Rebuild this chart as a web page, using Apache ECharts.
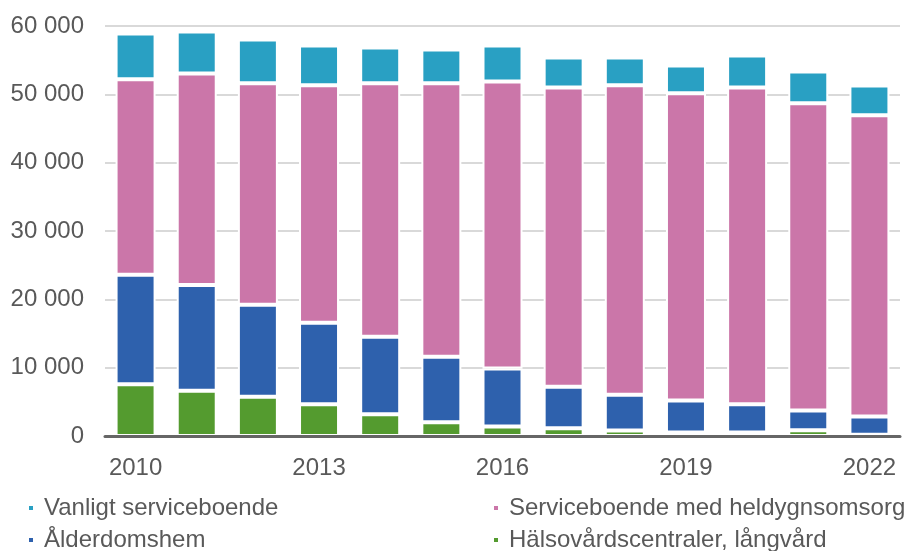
<!DOCTYPE html>
<html>
<head>
<meta charset="utf-8">
<script src="https://cdn.jsdelivr.net/npm/echarts@6/dist/echarts.min.js"></script>
<style>
html,body{margin:0;padding:0;background:#fff;}
#chart{width:920px;height:551px;}
</style>
</head>
<body>
<div id="chart"></div>
<script>
const years = ['2010','2011','2012','2013','2014','2015','2016','2017','2018','2019','2020','2021','2022'];
const seriesNames = ['Vanligt serviceboende','Serviceboende med heldygnsomsorg','Ålderdomshem','Hälsovårdscentraler, långvård'];
const halsovard = [7570, 6630, 5750, 4640, 3170, 2000, 1390, 1120, 800, 500, 500, 830, 200];
const alderdomshem = [16030, 15470, 13450, 11930, 11370, 9610, 8490, 6100, 5250, 4700, 4140, 2900, 2650];
const heldygn = [28600, 30950, 32410, 34750, 37070, 40000, 41990, 43780, 45270, 44950, 46360, 44950, 44080];
const vanligt = [6700, 6150, 6410, 5820, 5240, 4950, 5270, 4390, 4070, 4070, 4680, 4660, 4360];
const colors = {vanligt:'#29A0C3', heldygn:'#CB76A9', alder:'#2E61AD', halso:'#549B2F'};

const fmt = v => String(v).replace(/\B(?=(\d{3})+(?!\d))/g, ' ');
const font = 'Liberation Sans, Arial, sans-serif';

function bar(name, data, color){
  return {
    name, type:'bar', stack:'total', data, barWidth:40,
    itemStyle:{color, borderColor:'#fff', borderWidth:2},
    emphasis:{disabled:true}
  };
}
function leg(name, left, top){
  return {left, top, itemWidth:6, itemHeight:6, icon:'rect', data:[name],
    padding:0, selectedMode:false,
    textStyle:{fontFamily:font, fontSize:24, color:'#595959', lineHeight:24, padding:[0,0,0,5]}};
}

const chart = echarts.init(document.getElementById('chart'), null, {renderer:'canvas'});
chart.setOption({
  animation:false,
  backgroundColor:'#fff',
  grid:{left:105, right:20, top:26, bottom:115, containLabel:false},
  legend:[
    leg(seriesNames[0], 27, 496),
    leg(seriesNames[2], 27, 528),
    leg(seriesNames[1], 492, 496),
    leg(seriesNames[3], 492, 528)
  ],
  xAxis:{
    type:'category', data:years, z:5,
    axisLine:{lineStyle:{color:'#666666', width:3}},
    axisTick:{show:false},
    axisLabel:{interval:2, fontFamily:font, fontSize:24, color:'#595959', margin:20}
  },
  yAxis:{
    type:'value', min:0, max:60000, interval:10000,
    axisLine:{show:false}, axisTick:{show:false},
    splitLine:{lineStyle:{color:'#D9D9D9', width:2}},
    axisLabel:{fontFamily:font, fontSize:24, color:'#595959', margin:21, formatter:fmt}
  },
  series:[
    bar(seriesNames[3], halsovard, colors.halso),
    bar(seriesNames[2], alderdomshem, colors.alder),
    bar(seriesNames[1], heldygn, colors.heldygn),
    bar(seriesNames[0], vanligt, colors.vanligt)
  ]
});
</script>
</body>
</html>
